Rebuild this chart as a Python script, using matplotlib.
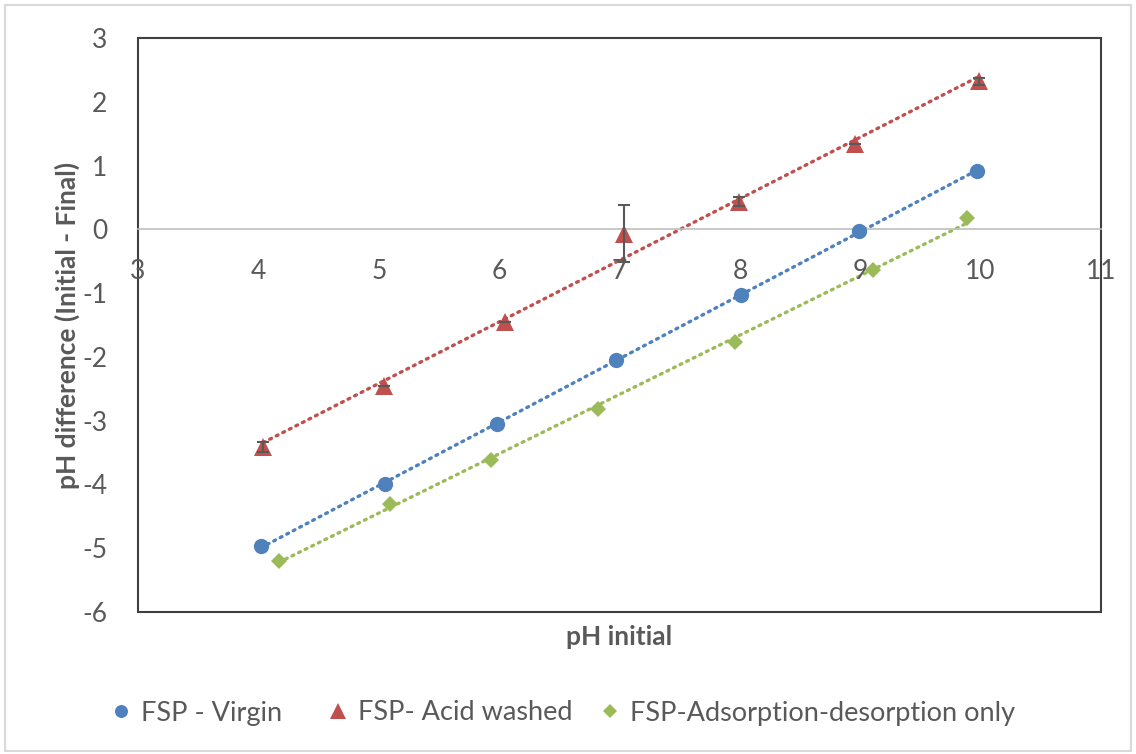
import numpy as np
import matplotlib
matplotlib.use("Agg")
import matplotlib.pyplot as plt
from matplotlib.patches import Rectangle
from matplotlib.lines import Line2D

plt.rcParams['font.family'] = ['Lato', 'DejaVu Sans']
plt.rcParams['axes.unicode_minus'] = False

# data
virgin_x = [4.02, 5.05, 5.98, 6.97, 8.01, 8.99, 9.97]
virgin_y = [-4.97, -4.0, -3.05, -2.05, -1.03, -0.02, 0.91]

acid_x = [4.04, 5.04, 6.05, 7.04, 7.99, 8.96, 9.99]
acid_y = [-3.41, -2.45, -1.46, -0.07, 0.43, 1.34, 2.32]
acid_err = [0.08, 0.0, 0.0, 0.45, 0.07, 0.0, 0.05]

ads_x = [4.17, 5.09, 5.93, 6.82, 7.96, 9.11, 9.89]
ads_y = [-5.2, -4.31, -3.61, -2.81, -1.76, -0.63, 0.17]

labels = ['FSP - Virgin', 'FSP- Acid washed', 'FSP-Adsorption-desorption only']
colors = ['#4F81BD', '#C0504D', '#9BBB59']
markers = ['o', '^', 'D']
msizes = [11, 13, 8.5]

xticks = [3, 4, 5, 6, 7, 8, 9, 10, 11]
yticks = [-6, -5, -4, -3, -2, -1, 0, 1, 2, 3]

grey = '#595959'

fig = plt.figure(figsize=(11.36, 7.54), dpi=100)
ax = fig.add_axes([138 / 1136, 1 - 612 / 754, (1101 - 138) / 1136, (612 - 38) / 754])

series = [(virgin_x, virgin_y), (acid_x, acid_y), (ads_x, ads_y)]
for (xs, ys), c, m, ms in zip(series, colors, markers, msizes):
    xs = np.array(xs)
    ys = np.array(ys)
    k, b = np.polyfit(xs, ys, 1)
    xl = np.array([xs.min(), xs.max()])
    ax.plot(xl, k * xl + b, color=c, lw=2.4, linestyle=(0, (0.6, 1.6)),
            dash_capstyle='round', zorder=2)
    ax.plot(xs, ys, linestyle='none', marker=m, ms=ms, color=c,
            markeredgewidth=0, zorder=3)

ax.errorbar(acid_x, acid_y, yerr=acid_err, fmt='none', ecolor='#595959',
            elinewidth=1.5, capsize=4.5, capthick=1.5, zorder=4)

ax.set_xlim(3, 11)
ax.set_ylim(-6, 3)
ax.set_yticks(yticks)
ax.set_xticks(xticks)
ax.tick_params(length=0, labelsize=19, colors=grey)
ax.tick_params(axis='y', pad=22)
ax.set_xticklabels([])

# x axis crosses at y = 0, labels sit just below it
ax.spines['bottom'].set_position(('data', 0))
ax.spines['bottom'].set_color('#BFBFBF')
ax.spines['bottom'].set_linewidth(1.2)
for s in ['top', 'left', 'right']:
    ax.spines[s].set_visible(False)
ax.add_patch(Rectangle((0, 0), 1, 1, transform=ax.transAxes, fill=False,
                       edgecolor='#404040', lw=1.5, clip_on=False, zorder=1))
for t in xticks:
    ax.annotate(str(t), (t, 0), xytext=(0, -21), textcoords='offset points',
                ha='center', va='top', fontsize=19, color=grey)

ax.set_ylabel('pH difference (Initial - Final)', fontsize=19, fontweight='bold',
              color=grey, labelpad=2)
fig.text(619 / 1136, 1 - 637 / 754, 'pH initial', ha='center', va='center',
         fontsize=19, fontweight='bold', color=grey)

# legend entries placed one by one (Excel spaces them unevenly)
legend_x = [107, 324, 596]
for c, m, ms, lab, lx in zip(colors, markers, msizes, labels, legend_x):
    h = Line2D([], [], linestyle='none', marker=m, color=c, ms=ms * 0.85,
               markeredgewidth=0)
    leg = fig.legend([h], [lab], loc='center left',
                     bbox_to_anchor=(lx / 1136, 1 - 713 / 754),
                     frameon=False, fontsize=19.5, labelcolor=grey,
                     borderpad=0, borderaxespad=0, handlelength=1.0,
                     handletextpad=0.27)

fig.patches.append(Rectangle((5 / 1136, 3 / 754), 1126 / 1136, 746 / 754,
                             transform=fig.transFigure, fill=False,
                             edgecolor='#D9D9D9', lw=1.5))

fig.savefig('out.png', dpi=100)
